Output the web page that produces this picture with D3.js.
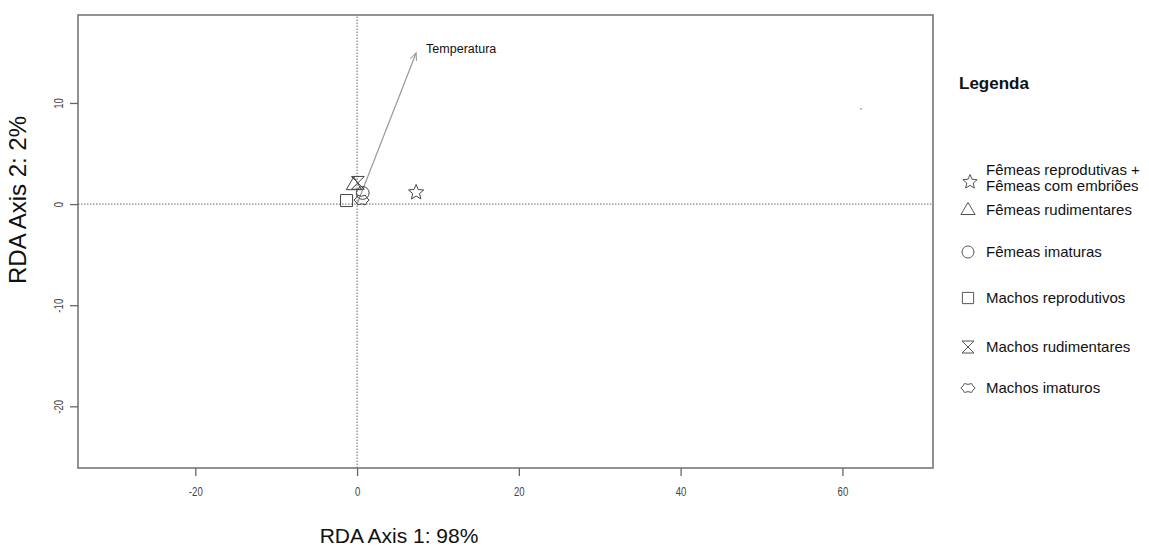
<!DOCTYPE html>
<html>
<head>
<meta charset="utf-8">
<script src="https://cdn.jsdelivr.net/npm/d3@7"></script>
<style>
  body { margin: 0; background: #fff; }
  svg { font-family: "Liberation Sans", Arial, sans-serif; }
</style>
</head>
<body>
<svg></svg>
<script>
// site scores per group (RDA1, RDA2)
const groups = ['Fêmeas reprodutivas + Fêmeas com embriões', 'Fêmeas rudimentares', 'Fêmeas imaturas',
  'Machos reprodutivos', 'Machos rudimentares', 'Machos imaturos'];
const shapes = ['star', 'triangle', 'circle', 'square', 'hourglass', 'cloud'];
const rda1 = [7.3, -0.4, 0.7, -1.3, 0.1, 0.55];
const rda2 = [1.15, 1.9, 1.1, 0.35, 2.1, 0.4];

// environmental arrow
const envName = ['Temperatura'];
const envX = [7.3];
const envY = [14.95];

// stray point near upper right
const extraX = [62.3];
const extraY = [9.4];

const xTicks = [-20, 0, 20, 40, 60];
const yTicks = [-20, -10, 0, 10];

const width = 1149, height = 552;
const margin = { left: 78, top: 15, right: 216, bottom: 84 };

const svg = d3.select('svg')
    .attr('width', width)
    .attr('height', height);

const x = d3.scaleLinear()
    .domain([-34.5, 71.2])
    .range([margin.left, width - margin.right]);
const y = d3.scaleLinear()
    .domain([-26.1, 18.7])
    .range([height - margin.bottom, margin.top]);

// zero lines
svg.append('line')
    .attr('x1', x.range()[0]).attr('x2', x.range()[1])
    .attr('y1', y(0)).attr('y2', y(0))
    .attr('stroke', '#666').attr('stroke-dasharray', '1.5,1.5');
svg.append('line')
    .attr('x1', x(0)).attr('x2', x(0))
    .attr('y1', y.range()[0]).attr('y2', y.range()[1])
    .attr('stroke', '#666').attr('stroke-dasharray', '1.5,1.5');

// box
svg.append('rect')
    .attr('x', x.range()[0]).attr('y', y.range()[1])
    .attr('width', x.range()[1] - x.range()[0])
    .attr('height', y.range()[0] - y.range()[1])
    .attr('fill', 'none').attr('stroke', '#777').attr('stroke-width', 1.6);

// axes
const xAxis = svg.append('g')
    .attr('transform', `translate(0,${y.range()[0]})`)
    .call(d3.axisBottom(x).tickValues(xTicks).tickSize(8).tickPadding(11).tickFormat(d => String(d)));
const yAxis = svg.append('g')
    .attr('transform', `translate(${x.range()[0]},0)`)
    .call(d3.axisLeft(y).tickValues(yTicks).tickSize(8).tickPadding(10).tickFormat(d => String(d)));

[xAxis, yAxis].forEach(a => {
    a.select('.domain').remove();
    a.selectAll('.tick line').attr('stroke', '#666').attr('stroke-width', 1.3);
    a.selectAll('.tick text').attr('fill', '#444').attr('font-size', 12)
        .attr('font-family', '"Liberation Sans", Arial, sans-serif');
});
xAxis.selectAll('.tick text')
    .attr('transform', 'scale(0.8,1)')
    .attr('x', 0);
yAxis.selectAll('.tick text')
    .attr('x', null).attr('dy', null)
    .attr('text-anchor', 'middle')
    .attr('transform', 'translate(-15,0) rotate(-90) scale(0.8,1)');

// arrow
const defs = svg.append('defs');
defs.append('marker')
    .attr('id', 'arr')
    .attr('viewBox', '0 0 10 10')
    .attr('refX', 9).attr('refY', 5)
    .attr('markerWidth', 7).attr('markerHeight', 7)
    .attr('orient', 'auto')
    .append('path')
    .attr('d', 'M0,1 L9,5 L0,9')
    .attr('fill', 'none').attr('stroke', '#999').attr('stroke-width', 1.2);

svg.selectAll('.env').data(envName)
    .enter().append('line')
    .attr('class', 'env')
    .attr('x1', x(0)).attr('y1', y(0))
    .attr('x2', (d, i) => x(envX[i])).attr('y2', (d, i) => y(envY[i]))
    .attr('stroke', '#999').attr('stroke-width', 1.2)
    .attr('marker-end', 'url(#arr)');
svg.selectAll('.envlab').data(envName)
    .enter().append('text')
    .attr('x', (d, i) => x(envX[i]) + 10)
    .attr('y', (d, i) => y(envY[i]))
    .attr('font-size', 12.5)
    .attr('fill', '#111')
    .text(d => d);

// symbol paths centered at 0,0
function shapePath(s, r) {
    if (s === 'star') {
        const pts = d3.range(10).map(k => {
            const a = -Math.PI / 2 + k * Math.PI / 5;
            const rr = k % 2 ? r * 0.45 : r;
            return [rr * Math.cos(a), rr * Math.sin(a)];
        });
        return 'M' + pts.join('L') + 'Z';
    }
    if (s === 'triangle') {
        return `M0,${-r}L${r * 0.95},${r * 0.6}L${-r * 0.95},${r * 0.6}Z`;
    }
    if (s === 'circle') {
        return `M${r * 0.8},0A${r * 0.8},${r * 0.8} 0 1,1 ${-r * 0.8},0A${r * 0.8},${r * 0.8} 0 1,1 ${r * 0.8},0Z`;
    }
    if (s === 'square') {
        const h = r * 0.75;
        return `M${-h},${-h}H${h}V${h}H${-h}Z`;
    }
    if (s === 'hourglass') {
        const h = r * 0.8;
        return `M${-h},${-h}H${h}M${-h},${h}H${h}M${-h},${-h}L${h},${h}M${h},${-h}L${-h},${h}`;
    }
    // machos imaturos: scalloped hexagon
    const w = r * 0.95, t = r * 0.6;
    return `M${-w * 0.5},${-t}Q0,${-t * 0.6} ${w * 0.5},${-t}Q${w * 0.7},${-t * 0.3} ${w},0` +
        `Q${w * 0.7},${t * 0.3} ${w * 0.5},${t}Q0,${t * 0.6} ${-w * 0.5},${t}` +
        `Q${-w * 0.7},${t * 0.3} ${-w},0Q${-w * 0.7},${-t * 0.3} ${-w * 0.5},${-t}Z`;
}

svg.selectAll('.pt').data(groups)
    .enter().append('path')
    .attr('class', 'pt')
    .attr('transform', (d, i) => `translate(${x(rda1[i])},${y(rda2[i])})`)
    .attr('d', (d, i) => shapePath(shapes[i], 8))
    .attr('fill', 'none').attr('stroke', '#444').attr('stroke-width', 1);

svg.selectAll('.extra').data(extraX)
    .enter().append('circle')
    .attr('cx', d => x(d)).attr('cy', (d, i) => y(extraY[i]))
    .attr('r', 1).attr('fill', '#aaa');

// axis titles
svg.append('text')
    .attr('x', 399).attr('y', 543)
    .attr('text-anchor', 'middle')
    .attr('font-size', 21)
    .attr('fill', '#111')
    .text('RDA Axis  1: 98%');
svg.append('text')
    .attr('transform', 'translate(26,200) rotate(-90)')
    .attr('text-anchor', 'middle')
    .attr('font-size', 24)
    .attr('fill', '#111')
    .text('RDA Axis  2: 2%');

// legend
const lg = svg.append('g');
lg.append('text')
    .attr('x', 959).attr('y', 89)
    .attr('font-size', 17).attr('font-weight', 'bold')
    .attr('fill', '#111')
    .text('Legenda');
const legY = [182, 210, 252, 298, 347, 388];
groups.forEach((g, i) => {
    lg.append('path')
        .attr('transform', `translate(${i === 0 ? 970 : 968},${legY[i]})`)
        .attr('d', shapePath(shapes[i], 7.5))
        .attr('fill', 'none').attr('stroke', '#555').attr('stroke-width', 1);
    const t = lg.append('text')
        .attr('x', 986)
        .attr('font-size', 15)
        .attr('fill', '#111');
    if (i === 0) {
        t.append('tspan').attr('x', 986).attr('y', legY[i] - 7).text('Fêmeas reprodutivas +');
        t.append('tspan').attr('x', 986).attr('y', legY[i] + 9).text('Fêmeas com embriões');
    } else {
        t.attr('y', legY[i] + 5).text(g);
    }
});
</script>
</body>
</html>
